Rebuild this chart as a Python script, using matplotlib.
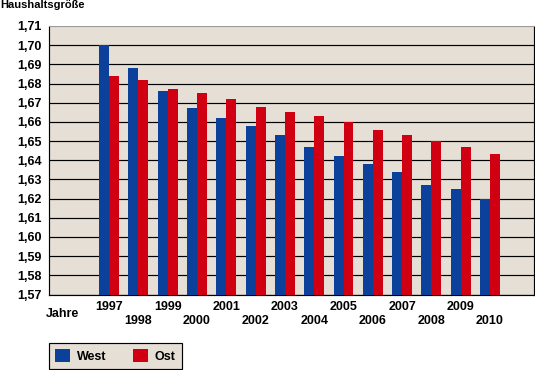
import matplotlib.pyplot as plt
import numpy as np

# Daten
jahre = [1997, 1998, 1999, 2000, 2001, 2002, 2003, 2004, 2005, 2006, 2007, 2008, 2009, 2010]
west = [1.700, 1.688, 1.676, 1.667, 1.662, 1.658, 1.653, 1.647, 1.642, 1.638, 1.634, 1.627, 1.625, 1.620]
ost = [1.684, 1.682, 1.677, 1.675, 1.672, 1.668, 1.665, 1.663, 1.660, 1.656, 1.653, 1.650, 1.647, 1.643]
yticks = [1.57, 1.58, 1.59, 1.60, 1.61, 1.62, 1.63, 1.64, 1.65, 1.66, 1.67, 1.68, 1.69, 1.70, 1.71]

blau = '#0b419b'
rot = '#d00012'
beige = '#e6dfd6'

plt.rcParams['font.family'] = ['Liberation Sans', 'DejaVu Sans']
plt.rcParams['font.weight'] = 'bold'
plt.rcParams['font.size'] = 9

fig = plt.figure(figsize=(5.35, 3.70), dpi=100)
ax = fig.add_axes([49/535, 1 - 294.5/370, 485/535, 268.5/370])
ax.set_facecolor(beige)

x = np.arange(len(jahre))
b = 0.34
ax.bar(x - b/2, west, b, color=blau, label='West', zorder=3)
ax.bar(x + b/2, ost, b, color=rot, label='Ost', zorder=3)

ax.set_ylim(1.57, 1.71)
ax.set_xlim(-2.05, 14.5)
ax.set_yticks(yticks, labels=[('%.2f' % v).replace('.', ',') for v in yticks])
ax.tick_params(axis='y', length=0, pad=5)
ax.set_xticks([])
ax.yaxis.grid(True, color='black', lw=0.85)
ax.get_ygridlines()[-1].set_color('#9a9a9a')
ax.set_axisbelow(True)

for s in ['left', 'bottom', 'right']:
    ax.spines[s].set_color('black')
    ax.spines[s].set_linewidth(0.85)
ax.spines['top'].set_color('#9a9a9a')
ax.spines['top'].set_linewidth(0.7)

# Jahresbeschriftung in zwei Reihen
for i, j in enumerate(jahre):
    yy = -0.047 if j % 2 == 1 else -0.099
    ax.text(x[i], yy, str(j), transform=ax.get_xaxis_transform(), ha='center', va='center')
fig.text(46/535, 1 - 314/370, 'Jahre', ha='left', va='center')
fig.text(0, 1 - 5/370, 'Haushaltsgröße', ha='left', va='center', fontsize=8)

leg = fig.legend(loc='lower left', bbox_to_anchor=(49/535, 1/370), ncol=2,
                 handlelength=1.2, handleheight=1.2, handletextpad=0.55,
                 columnspacing=2.1, borderpad=0.5, borderaxespad=0,
                 fancybox=False, frameon=True)
leg.get_frame().set_facecolor(beige)
leg.get_frame().set_edgecolor('black')
leg.get_frame().set_linewidth(0.85)
leg.get_frame().set_alpha(1)

plt.savefig('out.png', dpi=100)
